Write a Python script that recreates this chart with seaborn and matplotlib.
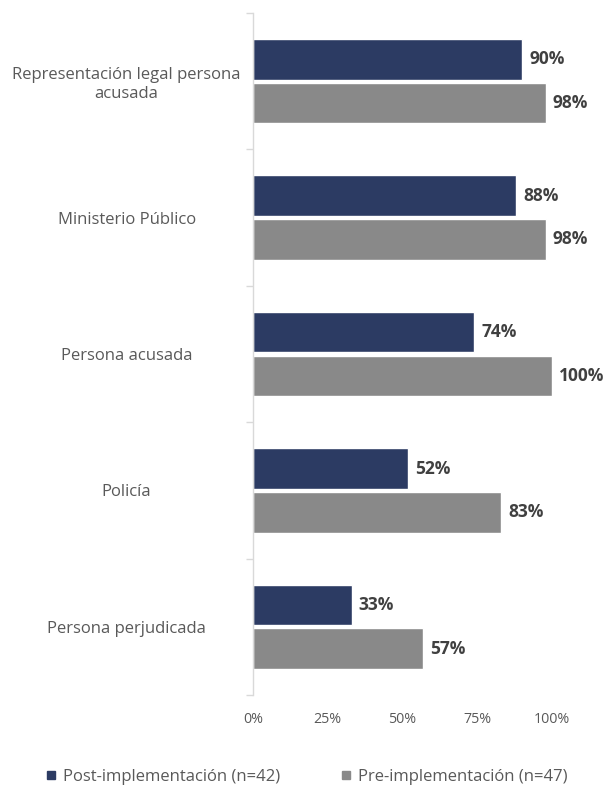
import matplotlib
matplotlib.use("Agg")
import matplotlib.pyplot as plt
import seaborn as sns
import pandas as pd
from matplotlib.lines import Line2D

categories = ["Representación legal persona\nacusada", "Ministerio Público", "Persona acusada", "Policía", "Persona perjudicada"]
post_values = [90, 88, 74, 52, 33]
pre_values = [98, 98, 100, 83, 57]
series_names = ["Post-implementación (n=42)", "Pre-implementación (n=47)"]
x_ticks = [0, 25, 50, 75, 100]
x_tick_labels = ["0%", "25%", "50%", "75%", "100%"]

colors = ["#2C3B63", "#898989"]

df = pd.DataFrame({
    "cat": categories * 2,
    "val": post_values + pre_values,
    "serie": [series_names[0]] * len(categories) + [series_names[1]] * len(categories),
})

sns.set_style("white")
plt.rcParams["font.family"] = ["Open Sans", "DejaVu Sans"]

fig = plt.figure(figsize=(6.1, 7.86), dpi=100)
ax = fig.add_axes([253 / 610, 1 - 695 / 786, (552 - 253) / 610, (695 - 13) / 786])

sns.barplot(data=df, x="val", y="cat", hue="serie", orient="h", palette=colors,
            width=0.64, gap=0.07, ax=ax, legend=False, saturation=1)

ax.set_xlim(0, 100)
ax.set_ylim(len(categories) - 0.5, -0.5)
ax.set_xlabel("")
ax.set_ylabel("")
ax.set_xticks(x_ticks)
ax.set_xticklabels(x_tick_labels, color="#595959", fontsize=10.3)
ax.tick_params(axis="x", length=0, pad=12)
ax.set_yticks(range(len(categories)))
ax.set_yticklabels(categories, color="#595959", fontsize=12, ha="center", linespacing=1.2)
ax.tick_params(axis="y", which="major", length=0, pad=91)
ax.set_yticks([i - 0.5 for i in range(len(categories) + 1)], minor=True)
ax.tick_params(axis="y", which="minor", left=True, length=5, color="#D9D9D9", width=1)

for s in ["top", "right", "bottom"]:
    ax.spines[s].set_visible(False)
ax.spines["left"].set_color("#D9D9D9")
ax.spines["left"].set_linewidth(1)

for container in ax.containers:
    labels = [f"{int(round(v))}%" for v in container.datavalues]
    ax.bar_label(container, labels=labels, padding=5, fontsize=12.5, fontweight="bold", color="#404040")

handles = [Line2D([0], [0], marker="s", linestyle="", markersize=5.5, markerfacecolor=c, markeredgecolor=c) for c in colors]
fig.legend(handles, series_names, loc="center", bbox_to_anchor=(0.5, 1 - 777 / 786), ncol=2, frameon=False,
           fontsize=12, labelcolor="#595959", handletextpad=0.2, columnspacing=3.5, handlelength=1.0)

fig.savefig("out.png", dpi=100)
